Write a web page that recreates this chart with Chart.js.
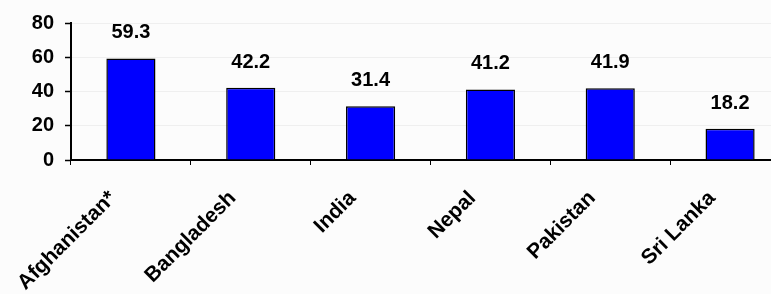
<!DOCTYPE html>
<html>
<head>
<meta charset="utf-8">
<script src="https://cdn.jsdelivr.net/npm/chart.js@4/dist/chart.umd.min.js"></script>
<style>
  html, body { margin: 0; padding: 0; background: #fcfcfc; overflow: hidden; width: 771px; height: 294px; }
  #wrap { position: absolute; left: 0; top: 0; width: 790px; height: 294px; }
</style>
</head>
<body>
<div id="wrap"><canvas id="c" width="790" height="294"></canvas></div>
<script>
const categories = ["Afghanistan*", "Bangladesh", "India", "Nepal", "Pakistan", "Sri Lanka"];
const values = [59.3, 42.2, 31.4, 41.2, 41.9, 18.2];
const yTicks = [0, 20, 40, 60, 80];

const FONT = "'Liberation Sans', Arial, sans-serif";

const valueLabels = {
  id: 'valueLabels',
  afterDatasetsDraw(chart) {
    const ctx = chart.ctx;
    const meta = chart.getDatasetMeta(0);
    ctx.save();
    ctx.font = "bold 20px " + FONT;
    ctx.fillStyle = '#000';
    ctx.textAlign = 'center';
    ctx.textBaseline = 'middle';
    meta.data.forEach((bar, i) => {
      ctx.fillText(values[i].toFixed(1), bar.x, bar.y - 25.5);
    });
    ctx.restore();
  }
};

new Chart(document.getElementById('c'), {
  type: 'bar',
  data: {
    labels: categories,
    datasets: [{
      data: values,
      backgroundColor: '#0000ff',
      borderColor: '#000000',
      borderWidth: 1.5,
      barPercentage: 0.41,
      categoryPercentage: 1.0
    }]
  },
  options: {
    responsive: false,
    animation: false,
    layout: { padding: { top: 22, right: 0, left: 0, bottom: 0 } },
    plugins: { legend: { display: false }, tooltip: { enabled: false } },
    scales: {
      x: {
        afterFit(s) { s.height = 294 - 22 - 138; },
        grid: { offset: true, drawOnChartArea: false, tickColor: '#000', tickLength: 5, tickWidth: 1 },
        border: { color: '#000', width: 2 },
        ticks: {
          minRotation: 45, maxRotation: 45, autoSkip: false,
          color: '#000', padding: 21, labelOffset: -18,
          font: { family: FONT, size: 21, weight: 'bold' }
        }
      },
      y: {
        min: 0, max: 80,
        afterFit(s) { s.width = 71; },
        afterBuildTicks(s) { s.ticks = yTicks.map(v => ({ value: v })); },
        grid: { color: '#efefef', tickColor: '#000', tickLength: 6, tickWidth: 1.5 },
        border: { color: '#000', width: 2 },
        ticks: {
          color: '#000', padding: 11,
          font: { family: FONT, size: 20, weight: 'bold' }
        }
      }
    }
  },
  plugins: [valueLabels]
});
</script>
</body>
</html>
